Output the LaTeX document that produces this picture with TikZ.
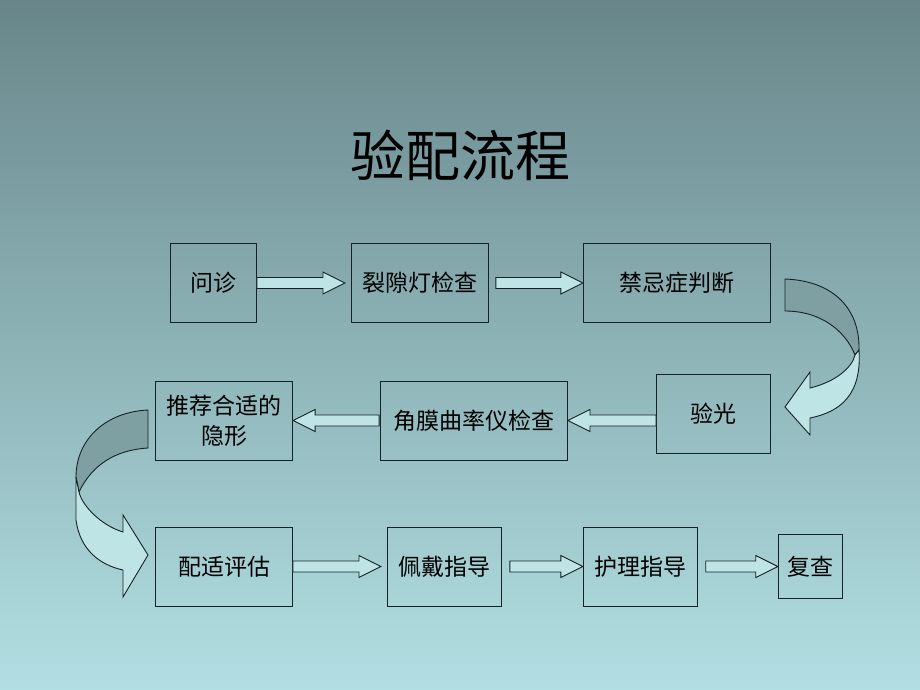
\documentclass[tikz,border=0pt]{standalone}
\usepackage{fontspec}
\setmainfont{Noto Sans CJK SC}
\usepackage{tikz}
\usetikzlibrary{arrows.meta, positioning, calc}

\definecolor{bgtop}{RGB}{104,134,138}
\definecolor{bgbot}{RGB}{178,223,227}
\definecolor{arrlight}{RGB}{190,228,230}
\definecolor{arrdark}{RGB}{126,160,162}
\definecolor{edge}{RGB}{20,36,38}

% block arrow between two nodes: from, to, gap at start, gap at tip
\newcommand\blockarrow[4]{%
  \draw[blockarr] let \p1=(#1), \p2=(#2), \n1={sign(\x2-\x1)},
      \n2={\x1+\n1*#3pt}, \n3={\x2-\n1*(#4pt+22pt)}, \n4={\x2-\n1*#4pt} in
    (\n2,\y2+5.5pt) -- (\n3,\y2+5.5pt) -- (\n3,\y2+11pt)
    -- (\n4,\y2) -- (\n3,\y2-11pt) -- (\n3,\y2-5.5pt)
    -- (\n2,\y2-5.5pt) -- cycle;}

\begin{document}
\begin{tikzpicture}[
    x=1pt, y=-1pt,
    box/.style={
        rectangle, draw=edge, line width=0.9pt,
        minimum height=79pt, inner sep=0pt,
        align=center, font=\fontsize{23}{30}\selectfont
    },
    blockarr/.style={draw=edge, line width=0.9pt, fill=arrlight},
    bendback/.style={draw=edge, line width=0.9pt, fill=arrdark},
    bendfront/.style={draw=edge, line width=0.9pt, fill=arrlight}
]

% background
\shade[top color=bgtop, bottom color=bgbot] (0,0) rectangle (920,690);

% title
\node[font=\fontsize{55}{60}\selectfont] (title) at (460,155) {验配流程};

% first row
\node[box, minimum width=86pt] (wenzhen) at (213.5,283) {问诊};
\node[box, minimum width=137pt, right=94pt of wenzhen] (liexi) {裂隙灯检查};
\node[box, minimum width=187pt, right=94pt of liexi]   (jinji) {禁忌症判断};

% second row
\node[box, minimum width=114pt] (yanguang) at (713.5,413.5) {验光};
\node[box, minimum width=187pt] (jiaomo)   at (474,420.5) {角膜曲率仪检查};
\node[box, minimum width=137pt, left=87pt of jiaomo] (tuijian) {推荐合适的\\隐形};

% third row
\node[box, minimum width=137pt] (peishi) at (224,566.5) {配适评估};
\node[box, minimum width=114pt, right=94pt of peishi] (peidai) {佩戴指导};
\node[box, minimum width=114pt, right=81pt of peidai] (huli)   {护理指导};
\node[box, minimum width=64pt, minimum height=64pt, right=80pt of huli] (fucha) {复查};

% straight arrows
\blockarrow{wenzhen.east}{liexi.west}{0}{6}
\blockarrow{liexi.east}{jinji.west}{7}{0}
\blockarrow{yanguang.west}{jiaomo.east}{0}{0}
\blockarrow{jiaomo.west}{tuijian.east}{1}{0}
\blockarrow{peishi.east}{peidai.west}{0}{6}
\blockarrow{peidai.east}{huli.west}{8}{0}
\blockarrow{huli.east}{fucha.west}{8}{0}

% bent arrow on the right
\draw[bendback] (785,279) .. controls (835,281) and (860,310) .. (859,350)
    -- (855,355) .. controls (845,330) and (820,311) .. (785,311) -- cycle;
\draw[bendfront] (859,350) .. controls (862,395) and (840,412) .. (810,418)
    -- (810,435) -- (785,407) -- (810,372) -- (810,388)
    .. controls (835,382) and (852,368) .. (855,355) -- cycle;

% bent arrow on the left
\draw[bendback] (148,410) .. controls (105,412) and (76,440) .. (76,477)
    -- (79,492) .. controls (92,465) and (115,450) .. (148,448) -- cycle;
\draw[bendfront] (76,477) -- (76,520) .. controls (80,550) and (100,565) .. (123,570)
    -- (123,597) -- (148,555) -- (123,515) -- (123,532)
    .. controls (100,525) and (82,505) .. (79,492) -- cycle;

\end{tikzpicture}
\end{document}
